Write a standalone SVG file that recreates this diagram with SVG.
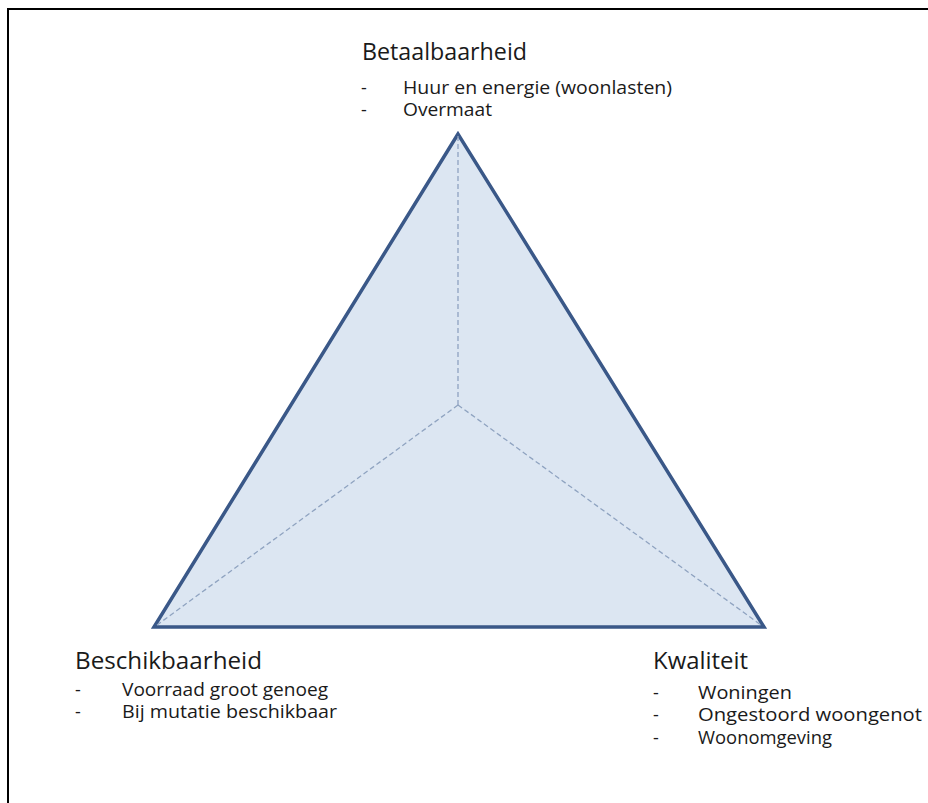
<svg xmlns="http://www.w3.org/2000/svg" width="928" height="803" viewBox="0 0 928 803">
<style>
.title{font-family:"Open Sans","Liberation Sans",sans-serif;font-size:23px;fill:#1a1a1a}
.item{font-family:"Open Sans","Liberation Sans",sans-serif;font-size:18px;fill:#1a1a1a}
.dash{stroke:#8fa3c0;stroke-width:1.3;stroke-dasharray:5 3;fill:none}
</style>
<rect width="928" height="803" fill="#ffffff"/>
<path d="M8,803 V9 H928" fill="none" stroke="#000000" stroke-width="2"/>
<g id="triangle">
<polygon points="458,134 154,627 764,627" fill="#dce6f2" stroke="#3a5888" stroke-width="3.5" stroke-linejoin="miter"/>
</g>
<g id="connectors">
<line class="dash" x1="458" y1="405" x2="458" y2="136"/>
<line class="dash" x1="458" y1="405" x2="157" y2="625"/>
<line class="dash" x1="458" y1="405" x2="761" y2="625"/>
</g>
<g id="betaalbaarheid">
<text class="title" x="362" y="60" textLength="165" lengthAdjust="spacingAndGlyphs">Betaalbaarheid</text>
<text class="item" x="361" y="94">-</text>
<text class="item" x="403" y="94" textLength="269" lengthAdjust="spacingAndGlyphs">Huur en energie (woonlasten)</text>
<text class="item" x="361" y="116">-</text>
<text class="item" x="403" y="116" textLength="89" lengthAdjust="spacingAndGlyphs">Overmaat</text>
</g>
<g id="beschikbaarheid">
<text class="title" x="75" y="669" textLength="187" lengthAdjust="spacingAndGlyphs">Beschikbaarheid</text>
<text class="item" x="75" y="696">-</text>
<text class="item" x="122" y="696" textLength="206" lengthAdjust="spacingAndGlyphs">Voorraad groot genoeg</text>
<text class="item" x="75" y="718">-</text>
<text class="item" x="122" y="718" textLength="215" lengthAdjust="spacingAndGlyphs">Bij mutatie beschikbaar</text>
</g>
<g id="kwaliteit">
<text class="title" x="653" y="669" textLength="95" lengthAdjust="spacingAndGlyphs">Kwaliteit</text>
<text class="item" x="653" y="699">-</text>
<text class="item" x="698" y="699" textLength="94" lengthAdjust="spacingAndGlyphs">Woningen</text>
<text class="item" x="653" y="721">-</text>
<text class="item" x="698" y="721" textLength="224" lengthAdjust="spacingAndGlyphs">Ongestoord woongenot</text>
<text class="item" x="653" y="744">-</text>
<text class="item" x="698" y="744" textLength="134" lengthAdjust="spacingAndGlyphs">Woonomgeving</text>
</g>
</svg>
